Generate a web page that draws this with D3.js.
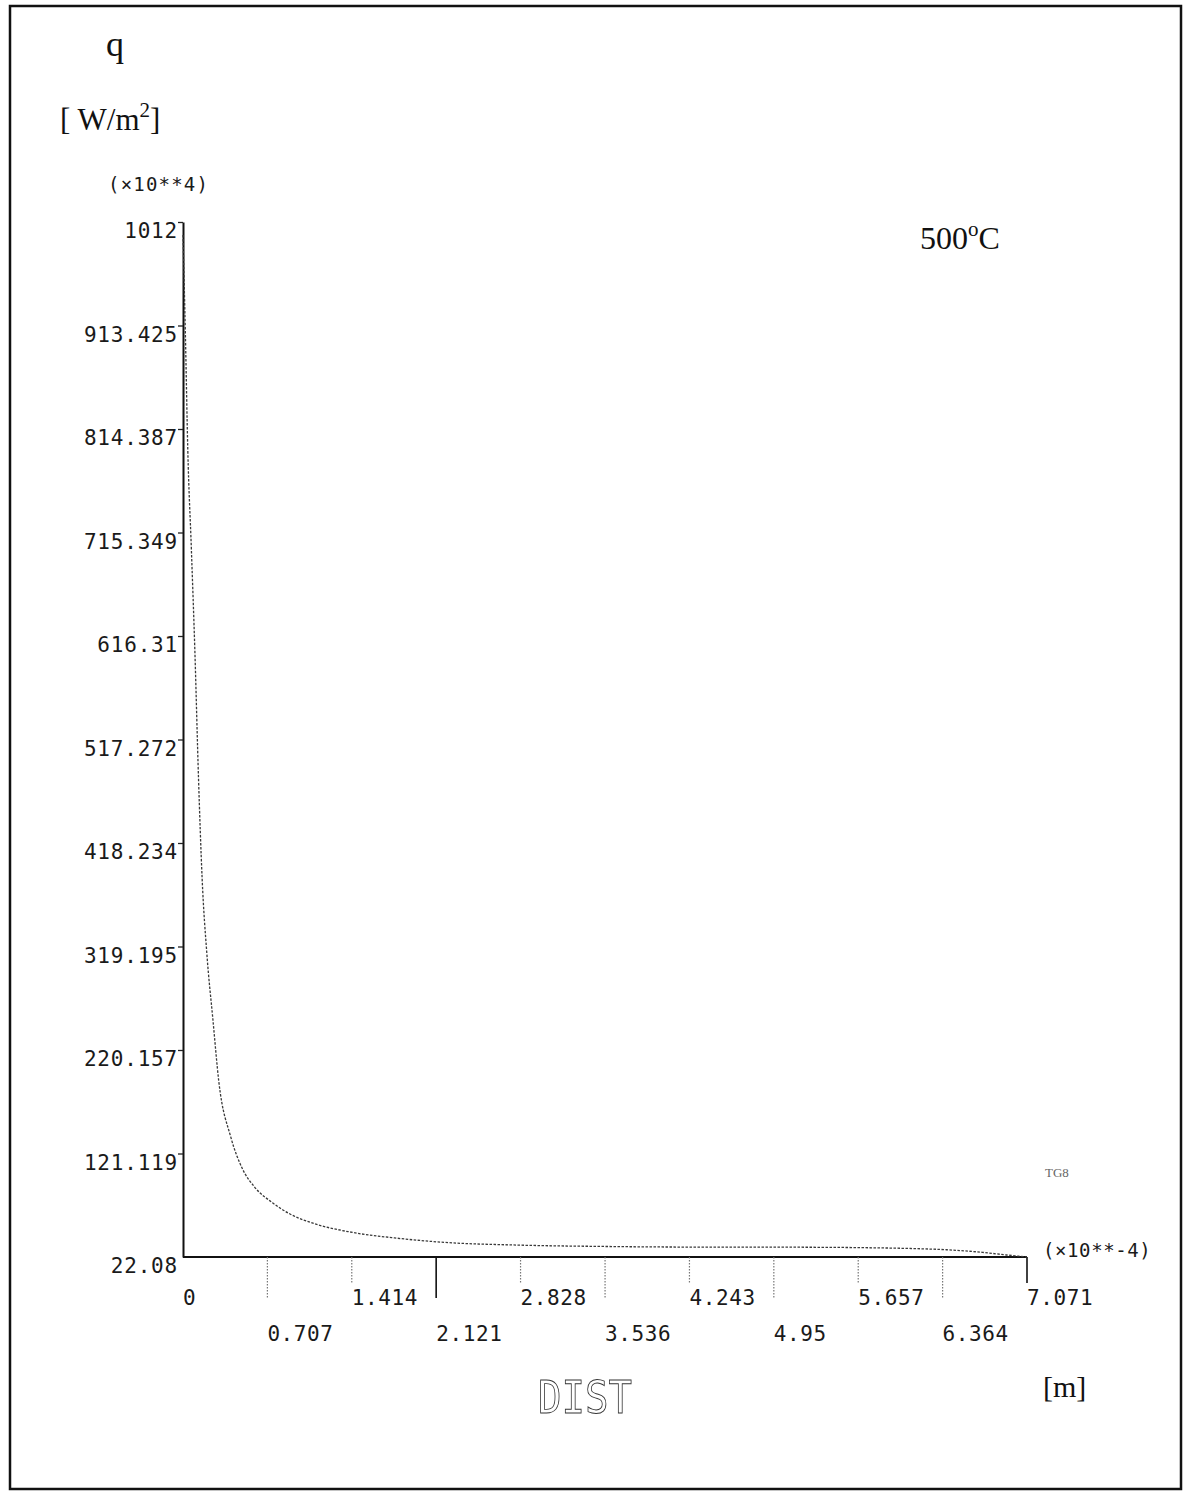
<!DOCTYPE html>
<html>
<head>
<meta charset="utf-8">
<script src="https://cdn.jsdelivr.net/npm/d3@7"></script>
<style>
  html, body { margin: 0; padding: 0; background: #fff; }
  svg { display: block; }
  .mono { font-family: "DejaVu Sans Mono", monospace; fill: #1a1a1a; }
  .serif { font-family: "Liberation Serif", "Times New Roman", serif; fill: #111; }
</style>
</head>
<body>
<div id="chart"></div>
<script>
// heat flux q along the distance (x10**-4 m, x10**4 W/m2)
const dist = [0, 0.02, 0.04, 0.07, 0.1, 0.13, 0.16, 0.2, 0.25, 0.3, 0.4, 0.5, 0.6, 0.75, 0.9,
              1.1, 1.4, 1.8, 2.2, 2.8, 3.5, 4.2, 5.0, 5.7, 6.1, 6.4, 6.7, 6.9, 7.071];
const flux = [1000, 905, 795, 700, 600, 480, 385, 312, 250, 190, 137, 106, 89, 74, 63,
              54, 46, 40, 36, 33.5, 32.2, 31.6, 31.5, 31.0, 30.2, 29.0, 26.5, 24.0, 22.08];

// axis ticks as printed
const yTicks = [22.08, 121.119, 220.157, 319.195, 418.234, 517.272, 616.31, 715.349, 814.387, 913.425, 1012.46];
const yLabels = ["22.08", "121.119", "220.157", "319.195", "418.234", "517.272", "616.31", "715.349", "814.387", "913.425", "1012"];
const xTicks = [0, 0.707, 1.414, 2.121, 2.828, 3.536, 4.243, 4.95, 5.657, 6.364, 7.071];
const xLabels = ["0", "0.707", "1.414", "2.121", "2.828", "3.536", "4.243", "4.95", "5.657", "6.364", "7.071"];
const solidTicks = [2.121, 7.071];

const W = 1183, H = 1493;
const svg = d3.select("#chart").append("svg")
  .attr("width", W).attr("height", H)
  .attr("viewBox", `0 0 ${W} ${H}`);

// page frame
svg.append("rect")
  .attr("x", 10).attr("y", 6)
  .attr("width", 1171).attr("height", 1483)
  .attr("fill", "none").attr("stroke", "#111").attr("stroke-width", 2.5);

const x = d3.scaleLinear().domain([0, 7.071]).range([183, 1027]);
const y = d3.scaleLinear().domain([22.08, 1012.46]).range([1257, 222]);

// y axis
const yAxis = d3.axisLeft(y)
  .tickValues(yTicks)
  .tickFormat((d, i) => yLabels[i])
  .tickSize(5)
  .tickSizeOuter(0)
  .tickPadding(0);

const gy = svg.append("g")
  .attr("transform", `translate(${x(0)},0)`)
  .call(yAxis);
gy.select(".domain").attr("stroke", "#111").attr("stroke-width", 2);
gy.selectAll(".tick line").attr("stroke", "#222").attr("stroke-width", 1.3)
  .filter(d => d === 22.08).remove();
gy.selectAll(".tick text")
  .attr("class", "mono")
  .attr("font-size", 21)
  .attr("letter-spacing", 0.8)
  .attr("dy", "0.76em")
  .attr("x", -5);

// x axis line
svg.append("line")
  .attr("x1", x(0)).attr("x2", x(7.071))
  .attr("y1", y(22.08)).attr("y2", y(22.08))
  .attr("stroke", "#111").attr("stroke-width", 2);

// x ticks: alternate long/short, most dotted
svg.append("g").selectAll("line")
  .data(xTicks.filter(d => d > 0))
  .join("line")
  .attr("x1", d => x(d)).attr("x2", d => x(d))
  .attr("y1", y(22.08))
  .attr("y2", d => y(22.08) + (xTicks.indexOf(d) % 2 === 1 ? 41 : 26))
  .attr("stroke", d => solidTicks.includes(d) ? "#111" : "#777")
  .attr("stroke-width", d => solidTicks.includes(d) ? 1.6 : 1.2)
  .attr("stroke-dasharray", d => solidTicks.includes(d) ? null : "1.5,1.5");

svg.append("g").selectAll("text")
  .data(xTicks)
  .join("text")
  .attr("class", "mono")
  .attr("font-size", 21)
  .attr("letter-spacing", 0.6)
  .attr("x", d => x(d))
  .attr("y", (d, i) => i % 2 === 0 ? 1305 : 1341)
  .text((d, i) => xLabels[i]);

// curve
const line = d3.line()
  .x(d => x(d[0]))
  .y(d => y(d[1]))
  .curve(d3.curveMonotoneX);

svg.append("path")
  .datum(d3.zip(dist, flux))
  .attr("d", line)
  .attr("fill", "none")
  .attr("stroke", "#3a3a3a")
  .attr("stroke-width", 1.3)
  .attr("stroke-dasharray", "2.5,1.5");

// labels
svg.append("text").attr("class", "serif")
  .attr("x", 106).attr("y", 56).attr("font-size", 36).text("q");

const unit = svg.append("text").attr("class", "serif")
  .attr("x", 60).attr("y", 130).attr("font-size", 31);
unit.append("tspan").text("[ W/m");
unit.append("tspan").attr("font-size", 21).attr("dy", -13).text("2");
unit.append("tspan").attr("dy", 13).text("]");

svg.append("text").attr("class", "mono")
  .attr("x", 108).attr("y", 191).attr("font-size", 19)
  .attr("letter-spacing", 1.2)
  .text("(\u00d710**4)");

const temp = svg.append("text").attr("class", "serif")
  .attr("x", 920).attr("y", 249).attr("font-size", 32);
temp.append("tspan").text("500");
temp.append("tspan").attr("font-size", 21).attr("dy", -13).text("o");
temp.append("tspan").attr("dy", 13).text("C");

svg.append("text").attr("class", "mono")
  .attr("x", 1043).attr("y", 1257).attr("font-size", 19)
  .attr("letter-spacing", 0.6)
  .text("(\u00d710**-4)");

svg.append("text").attr("class", "serif")
  .attr("x", 1045).attr("y", 1177).attr("font-size", 13)
  .style("fill", "#666")
  .text("TG8");

// axis title drawn as outlined plotter-style letters
svg.append("text")
  .attr("x", 538).attr("y", 1413)
  .attr("font-family", "DejaVu Sans Mono, monospace")
  .attr("font-size", 45)
  .attr("textLength", 94).attr("lengthAdjust", "spacingAndGlyphs")
  .attr("fill", "none")
  .attr("stroke", "#333")
  .attr("stroke-width", 0.9)
  .style("filter", "grayscale(1)")
  .text("DIST");

svg.append("text").attr("class", "serif")
  .attr("x", 1043).attr("y", 1397).attr("font-size", 30)
  .text("[m]");
</script>
</body>
</html>
